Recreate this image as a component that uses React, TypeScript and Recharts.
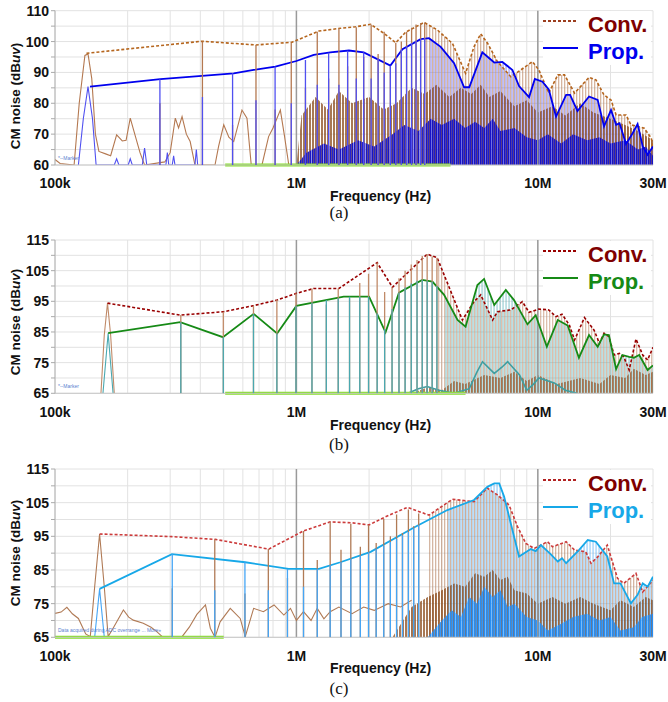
import React from "react";
import {
  ComposedChart,
  Line,
  Area,
  Scatter,
  XAxis,
  YAxis,
  CartesianGrid,
  ReferenceLine,
  Legend,
} from "recharts";

type Pt = [number, number];

// ---- axes ----
const freqTicks = [
  1e5, 2e5, 3e5, 4e5, 5e5, 6e5, 7e5, 8e5, 9e5,
  1e6, 2e6, 3e6, 4e6, 5e6, 6e6, 7e6, 8e6, 9e6,
  1e7, 2e7, 3e7,
];
const freqLabels: Record<string, string> = {
  "100000": "100k",
  "1000000": "1M",
  "10000000": "10M",
  "30000000": "30M",
};
const dbTicksA = [60, 65, 70, 75, 80, 85, 90, 95, 100, 105, 110];
const dbLabelsA = [60, 70, 80, 90, 100, 110];
const dbTicksBC = [65, 70, 75, 80, 85, 90, 95, 100, 105, 110, 115];
const dbLabelsBC = [65, 75, 85, 95, 105, 115];

// ---- (a) ----
const aConv: Pt[] = [
  [1.35e5, 96.2], [4.06e5, 100.1], [6.8e5, 98.9], [9.6e5, 99.8], [1.24e6, 103.4],
  [1.52e6, 104.3], [1.76e6, 104.8], [2.03e6, 105.6], [2.3e6, 102.7], [2.58e6, 99.6],
  [2.83e6, 103], [3.38e6, 106.2], [3.83e6, 103.8], [4.43e6, 99.4], [5.02e6, 89.7],
  [5.44e6, 98.3], [5.8e6, 102.5], [6.2e6, 99.4], [6.8e6, 93.5], [7.73e6, 88.6],
  [8.5e6, 90.8], [9.5e6, 93.5], [1.01e7, 90.8], [1.11e7, 83.3], [1.21e7, 89.2],
  [1.29e7, 89.2], [1.42e7, 83.3], [1.63e7, 88.4], [1.74e7, 87.6], [1.88e7, 82.7],
  [2.01e7, 81.1], [2.11e7, 76.2], [2.32e7, 76.2], [2.43e7, 73], [2.59e7, 72.5],
  [2.76e7, 71.9], [2.95e7, 68.7], [3e7, 66],
];
const aProp: Pt[] = [
  [1.396e5, 85.4], [2.73e5, 87.8], [4.06e5, 88.9], [5.5e5, 89.7], [6.65e5, 90.8],
  [8.18e5, 91.9], [1e6, 93.7], [1.18e6, 95.7], [1.38e6, 96.5], [1.65e6, 97.1],
  [1.9e6, 96.5], [2.45e6, 92.2], [2.75e6, 97.5], [3.27e6, 100.8], [3.54e6, 101.1],
  [3.96e6, 98.3], [4.5e6, 93], [4.95e6, 85.2], [5.2e6, 85.2], [5.89e6, 96.5],
  [6.6e6, 93.2], [7.13e6, 93.4], [7.85e6, 90.8], [8.36e6, 85.6], [9.2e6, 82],
  [9.72e6, 87.9], [1.045e7, 87], [1.11e7, 84.5], [1.19e7, 75.7], [1.31e7, 82.7],
  [1.36e7, 82.7], [1.46e7, 77.5], [1.63e7, 82.2], [1.77e7, 81.1], [1.88e7, 72.5],
  [2.01e7, 77.8], [2.11e7, 73], [2.18e7, 73.5], [2.32e7, 66.8], [2.47e7, 70.3],
  [2.59e7, 73.3], [2.72e7, 66], [2.85e7, 63.3], [3e7, 66],
];
const aConvSpikes: Pt[] = [
  [2.72e5, 80], [4.08e5, 100], [5.44e5, 73], [6.8e5, 98.9], [8.16e5, 78],
  [9.52e5, 99.6], [1.09e6, 85], [1.22e6, 103.2], [1.36e6, 88], [1.5e6, 104.2],
  [1.63e6, 92], [1.77e6, 104.6], [1.9e6, 95], [2.04e6, 105.5], [2.18e6, 96],
  [2.31e6, 103.2], [2.45e6, 92], [2.58e6, 99.6], [2.72e6, 100], [2.86e6, 103.2],
  [3e6, 104.5], [3.13e6, 105.5], [3.27e6, 106], [3.4e6, 106.2],
];
const aPropSpikes: Pt[] = [
  [2.72e5, 87.8], [4.08e5, 82], [5.44e5, 89.7], [6.8e5, 81], [8.16e5, 91.9],
  [9.52e5, 80], [1.09e6, 94], [1.22e6, 86], [1.36e6, 96.4], [1.5e6, 86],
  [1.63e6, 97], [1.77e6, 88], [1.9e6, 96.5], [2.04e6, 88], [2.18e6, 94.5],
  [2.31e6, 90], [2.45e6, 92.2], [2.58e6, 93], [2.72e6, 97.4], [2.86e6, 98.5],
  [3e6, 99.5], [3.13e6, 100.3], [3.27e6, 100.8], [3.4e6, 101],
];
const aConvTrace: Pt[] = [
  [1e5, 61.8], [1.05e5, 60.5], [1.2e5, 60], [1.26e5, 80], [1.33e5, 95.5], [1.37e5, 96],
  [1.42e5, 88], [1.47e5, 70], [1.52e5, 64.4], [1.62e5, 63.6], [1.7e5, 63], [1.8e5, 69.8],
  [1.9e5, 67.8], [1.97e5, 68], [2.05e5, 75.2], [2.14e5, 70], [2.25e5, 64], [2.35e5, 60],
  [2.85e5, 61], [3e5, 64], [3.15e5, 75.2], [3.25e5, 72], [3.36e5, 75.7], [3.5e5, 70],
  [3.63e5, 67.6], [3.8e5, 60], [4.6e5, 60], [4.76e5, 66], [5e5, 73], [5.25e5, 69],
  [5.5e5, 67.6], [5.95e5, 77.8], [6.24e5, 75.2], [6.5e5, 60], [7.2e5, 60], [7.67e5, 69.2],
  [8e5, 72], [8.58e5, 77.8], [8.9e5, 70], [9.3e5, 60],
];
const aPropTrace: Pt[] = [
  [1.25e5, 60], [1.31e5, 75], [1.37e5, 85.4], [1.43e5, 75], [1.48e5, 60],
  [1.76e5, 60], [1.8e5, 62], [1.84e5, 60], [2.01e5, 60], [2.05e5, 62], [2.09e5, 60],
  [2.3e5, 60], [2.35e5, 65.5], [2.4e5, 60], [2.88e5, 60], [2.92e5, 64], [2.96e5, 60],
  [3.06e5, 60], [3.1e5, 63], [3.14e5, 60], [3.8e5, 60], [3.85e5, 65], [3.9e5, 60],
];
const aConvMass: Pt[] = [
  [1e6, 60], [1.05e6, 76], [1.2e6, 82], [1.35e6, 78], [1.5e6, 84], [1.7e6, 80],
  [2e6, 82], [2.3e6, 78], [2.6e6, 80], [3e6, 85], [3.4e6, 83], [3.8e6, 86],
  [4.3e6, 82], [4.8e6, 85], [5.3e6, 83], [5.8e6, 86], [6.3e6, 82], [7e6, 84],
  [8e6, 79], [9e6, 81], [1e7, 77], [1.15e7, 79], [1.3e7, 76], [1.5e7, 80],
  [1.7e7, 77], [2e7, 75], [2.3e7, 73], [2.6e7, 71], [3e7, 68],
];
const aPropMass: Pt[] = [
  [1e6, 60], [1.1e6, 64], [1.3e6, 67], [1.5e6, 65], [1.8e6, 68], [2.1e6, 66],
  [2.5e6, 70], [2.8e6, 73], [3.2e6, 71], [3.6e6, 75], [4e6, 73], [4.5e6, 75],
  [5e6, 72], [5.5e6, 74], [6e6, 72], [6.5e6, 75], [7e6, 71], [8e6, 72], [9e6, 69],
  [1e7, 68], [1.1e7, 70], [1.25e7, 67], [1.4e7, 70], [1.6e7, 68], [1.8e7, 69],
  [2e7, 67], [2.3e7, 68], [2.6e7, 65], [2.8e7, 66], [3e7, 63],
];

// ---- (b) ----
const bConv: Pt[] = [
  [1.65e5, 94.4], [3.3e5, 90.5], [4.99e5, 91.6], [6.65e5, 93.6], [8.32e5, 95.4],
  [1e6, 97.6], [1.18e6, 99.2], [1.5e6, 99.2], [2.16e6, 107.6], [2.5e6, 99.6],
  [3.48e6, 110.4], [3.83e6, 109.2], [4.87e6, 88.9], [5.44e6, 94.9], [5.8e6, 97.1],
  [6.5e6, 88.9], [6.8e6, 91.6], [7.73e6, 92.2], [8.63e6, 94.9], [9.2e6, 91.4],
  [1.01e7, 92.5], [1.11e7, 92.2], [1.19e7, 90], [1.26e7, 90.8], [1.35e7, 87.3],
  [1.42e7, 82.4], [1.56e7, 89.7], [1.71e7, 85.6], [1.8e7, 81.3], [1.88e7, 84.6],
  [1.97e7, 83.5], [2.07e7, 77.5], [2.18e7, 78], [2.27e7, 76.9], [2.39e7, 72.6],
  [2.55e7, 82.7], [2.72e7, 77.5], [2.85e7, 75.9], [3e7, 80],
];
const bProp: Pt[] = [
  [1.66e5, 84.6], [3.3e5, 88.2], [4.96e5, 83.3], [6.65e5, 90.9], [8.32e5, 84.5],
  [1e6, 93.5], [1.57e6, 96.5], [2e6, 96.5], [2.34e6, 84.9], [2.66e6, 97.8],
  [3.32e6, 102], [3.66e6, 101.4], [4.09e6, 97.1], [4.65e6, 88.9], [5.02e6, 86.7],
  [5.62e6, 100.3], [5.99e6, 102.3], [6.6e6, 93.8], [7.37e6, 98.7], [7.97e6, 95.4],
  [9.06e6, 87.5], [9.8e6, 90.5], [1.09e7, 80.2], [1.21e7, 88.9], [1.33e7, 87.1],
  [1.48e7, 76.6], [1.63e7, 84], [1.77e7, 80.2], [1.88e7, 84.2], [1.97e7, 84],
  [2.11e7, 72.9], [2.24e7, 77.5], [2.39e7, 76.9], [2.5e7, 76.6], [2.63e7, 77.5],
  [2.85e7, 72.6], [3e7, 74.1],
];
const bConvSpikes: Pt[] = [
  [3.32e5, 90.5], [4.98e5, 91.6], [6.64e5, 93.6], [8.3e5, 95.4], [9.96e5, 97.6],
  [1.16e6, 99.2], [1.33e6, 94], [1.49e6, 99.2], [1.66e6, 96], [1.83e6, 101],
  [1.99e6, 104], [2.16e6, 107.6], [2.32e6, 98], [2.49e6, 99.6], [2.66e6, 102.5],
  [2.82e6, 105], [2.99e6, 107], [3.16e6, 108.5], [3.32e6, 109.8], [3.48e6, 110.4],
  [3.65e6, 109.7], [3.82e6, 109.2],
];
const bPropSpikes: Pt[] = [
  [3.32e5, 88.2], [4.98e5, 83.3], [6.64e5, 90.9], [8.3e5, 84.5], [9.96e5, 93.5],
  [1.16e6, 94.5], [1.33e6, 95.4], [1.49e6, 96], [1.66e6, 96.5], [1.83e6, 96.5],
  [1.99e6, 96.5], [2.16e6, 91], [2.32e6, 86], [2.49e6, 92.5], [2.66e6, 97.8],
  [2.82e6, 99.5], [2.99e6, 100.8], [3.16e6, 101.7], [3.32e6, 102], [3.48e6, 101.7],
  [3.65e6, 101.4], [3.82e6, 100],
];
const bConvTrace: Pt[] = [
  [1.55e5, 65], [1.6e5, 84], [1.65e5, 94.4], [1.7e5, 84], [1.76e5, 65],
];
const bPropTrace: Pt[] = [
  [1.58e5, 65], [1.66e5, 84.6], [1.74e5, 65],
];
const bConvMass: Pt[] = [
  [3e6, 65], [3.5e6, 67], [4e6, 66], [4.5e6, 69], [5e6, 68], [6e6, 71], [7e6, 70],
  [8e6, 72], [9e6, 69], [1e7, 71], [1.2e7, 68], [1.5e7, 70], [1.8e7, 68], [2e7, 71],
  [2.3e7, 70], [2.5e7, 73], [2.8e7, 71], [3e7, 72],
];
const bTealNoise: Pt[] = [
  [2.9e6, 65], [3.2e6, 66.5], [3.48e6, 67.2], [3.9e6, 66], [4.5e6, 65], [5.2e6, 66.5],
  [5.6e6, 72], [5.9e6, 75.3], [6.6e6, 71.5], [7.1e6, 73.5], [7.5e6, 75.3], [8.4e6, 71],
  [9e6, 66], [9.6e6, 68], [1.01e7, 70], [1.17e7, 68.4], [1.3e7, 66], [1.45e7, 65],
];

// ---- (c) ----
const cConv: Pt[] = [
  [1.53e5, 95.7], [3.05e5, 94.9], [4.61e5, 94.1], [7.68e5, 91.2], [1.07e6, 96.6],
  [1.38e6, 99.3], [1.7e6, 99], [2e6, 98.4], [2.34e6, 100.8], [2.88e6, 103.6],
  [3.54e6, 101.3], [4.43e6, 106], [5.44e6, 105.3], [6.18e6, 109.3], [6.8e6, 107.3],
  [7.6e6, 104.3], [8.24e6, 97.9], [8.92e6, 92.9], [9.66e6, 91.4], [1.097e7, 93.4],
  [1.15e7, 91.9], [1.31e7, 93.4], [1.42e7, 90.9], [1.58e7, 90.4], [1.66e7, 87],
  [1.77e7, 88.9], [1.94e7, 92.4], [2.14e7, 82.5], [2.27e7, 81], [2.55e7, 84],
  [2.72e7, 78.5], [3e7, 82],
];
const cProp: Pt[] = [
  [1.53e5, 79.4], [3.05e5, 89.7], [6.14e5, 87.3], [9.29e5, 85.3], [1.24e6, 85.3],
  [1.52e6, 87.3], [2.03e6, 90.4], [3.07e6, 97.6], [4.22e6, 102.8], [5.44e6, 105.8],
  [6.18e6, 109.7], [6.6e6, 110.7], [6.92e6, 110.7], [7.25e6, 106.8], [8.36e6, 89],
  [9.35e6, 91.2], [9.8e6, 90.6], [1.03e7, 92.4], [1.13e7, 89.7], [1.21e7, 87.5],
  [1.26e7, 88.5], [1.31e7, 87], [1.48e7, 90.9], [1.61e7, 93.9], [1.74e7, 93.4],
  [1.94e7, 89], [2.07e7, 81], [2.2e7, 81], [2.43e7, 75.1], [2.59e7, 77.6],
  [2.72e7, 81], [2.85e7, 80], [3e7, 83],
];
const cConvSpikes: Pt[] = [
  [3.06e5, 79.6], [4.59e5, 94.1], [6.12e5, 78], [7.65e5, 91.2], [9.18e5, 82.6],
  [1.07e6, 96.6], [1.22e6, 88], [1.38e6, 99.3], [1.53e6, 91], [1.68e6, 98.7],
  [1.84e6, 91.9], [1.99e6, 98.4], [2.14e6, 93], [2.3e6, 100.2], [2.45e6, 95],
  [2.6e6, 101.5], [2.75e6, 96], [2.91e6, 103], [3.06e6, 98], [3.21e6, 101.8],
];
const cPropSpikes: Pt[] = [
  [3.06e5, 89.7], [4.59e5, 79], [6.12e5, 87.3], [7.65e5, 79], [9.18e5, 85.3],
  [1.07e6, 80], [1.22e6, 85.3], [1.38e6, 86.5], [1.53e6, 87.4], [1.68e6, 88.3],
  [1.84e6, 89.3], [1.99e6, 90.3], [2.14e6, 91.3], [2.3e6, 92.3], [2.45e6, 93.3],
  [2.6e6, 94.3], [2.75e6, 95.3], [2.91e6, 96.3], [3.06e6, 97.4], [3.21e6, 98.3],
];
const cConvTrace: Pt[] = [
  [1e5, 72.1], [1.06e5, 72.5], [1.12e5, 73.9], [1.18e5, 72], [1.25e5, 70.6], [1.34e5, 66],
  [1.4e5, 65.2], [1.46e5, 80], [1.53e5, 95.7], [1.6e5, 80], [1.66e5, 65.2], [1.75e5, 68],
  [1.92e5, 73.1], [2.02e5, 71], [2.11e5, 70.1], [2.32e5, 69.2], [2.5e5, 68], [2.64e5, 66.7],
  [2.81e5, 64.9], [3.36e5, 65.2], [3.6e5, 68], [3.87e5, 71.8], [4.2e5, 74.6], [4.4e5, 67.7],
  [4.6e5, 65], [4.83e5, 69.6], [5.32e5, 73.6], [5.85e5, 70.6], [6.14e5, 65.2], [6.65e5, 73.6],
  [7.3e5, 72.6], [8.08e5, 74.6], [8.87e5, 71.6], [9.45e5, 73.6], [1e6, 70], [1.07e6, 72.6],
  [1.15e6, 70], [1.22e6, 73.6], [1.3e6, 70.5], [1.38e6, 72.6], [1.5e6, 74], [1.7e6, 72],
  [1.9e6, 74], [2.1e6, 73], [2.4e6, 75], [2.7e6, 74], [3e6, 76],
];
const cPropTrace: Pt[] = [
  [1.46e5, 65], [1.53e5, 79.4], [1.6e5, 65],
];
const cConvMass: Pt[] = [
  [2.5e6, 65], [3e6, 74], [3.5e6, 77], [4e6, 79], [4.5e6, 81], [5e6, 80], [5.5e6, 84],
  [6e6, 83], [6.5e6, 85], [7e6, 82], [7.5e6, 83], [8e6, 79], [9e6, 78], [1e7, 75],
  [1.15e7, 77], [1.3e7, 75], [1.5e7, 77], [1.7e7, 75], [2e7, 73], [2.2e7, 76],
  [2.5e7, 74], [2.8e7, 77], [3e7, 76],
];
const cPropMass: Pt[] = [
  [3.5e6, 65], [4e6, 70], [4.4e6, 73], [4.8e6, 71], [5.2e6, 77], [5.6e6, 75], [6e6, 80],
  [6.5e6, 77], [7e6, 79], [7.5e6, 74], [8e6, 75], [9e6, 71], [1e7, 70], [1.1e7, 67],
  [1.25e7, 69], [1.4e7, 71], [1.6e7, 72], [1.8e7, 70], [2e7, 71], [2.2e7, 67],
  [2.5e7, 68], [2.7e7, 71], [3e7, 72],
];

const rows = (pts: Pt[]) => pts.map(([f, db]) => ({ f, db }));

const SANS = "'Liberation Sans', Arial, sans-serif";
const SERIF = "'Liberation Serif', 'Times New Roman', serif";

type PanelProps = {
  id: string;
  caption: string;
  top: number;
  height: number;
  plotTop: number;
  plotBottom: number;
  yDomain: [number, number];
  yTicks: number[];
  yLabels: number[];
  yLabelShift: number;
  captionY: number;
  freqY: number;
  legendTop: number;
  conv: Pt[];
  prop: Pt[];
  convSpikes: Pt[];
  propSpikes: Pt[];
  convTrace: Pt[];
  propTrace: Pt[];
  convMass: Pt[];
  propMass: Pt[];
  noise?: Pt[];
  stripeFrom: number;
  limit: [number, number];
  marker: string;
  colors: {
    conv: string;
    prop: string;
    convSpike: string;
    propSpike: string;
    convMass: string;
    propMass: string;
    convLegend: string;
  };
};

function Panel(p: PanelProps) {
  const c = p.colors;
  const base = p.plotBottom - p.top;
  const spike = (color: string) => (s: any) => (
    <line x1={s.cx} x2={s.cx} y1={s.cy} y2={base} stroke={color} strokeWidth={1.3} />
  );
  const yMin = p.yDomain[0];
  return (
    <>
      <div style={{ position: "absolute", left: 0, top: p.top, width: 668, height: p.height }}>
        <ComposedChart
          width={668}
          height={p.height}
          margin={{ top: p.plotTop - p.top, right: 15, bottom: 0, left: 0 }}
        >
          <defs>
            <pattern id={`${p.id}-cs`} width="3" height="4" patternUnits="userSpaceOnUse">
              <rect x="0" width="1.3" height="4" fill={c.convSpike} opacity="0.55" />
            </pattern>
            <pattern id={`${p.id}-ps`} width="3" height="4" patternUnits="userSpaceOnUse">
              <rect x="1.5" width="1.1" height="4" fill={c.propSpike} opacity="0.6" />
            </pattern>
            <pattern id={`${p.id}-cm`} width="3" height="4" patternUnits="userSpaceOnUse">
              <rect x="0" width="2" height="4" fill={c.convMass} opacity="0.75" />
            </pattern>
            <pattern id={`${p.id}-pm`} width="2" height="4" patternUnits="userSpaceOnUse">
              <rect x="0" width="1.5" height="4" fill={c.propMass} opacity="0.9" />
            </pattern>
          </defs>
          <CartesianGrid stroke="#e2e2e2" />
          <XAxis
            dataKey="f"
            type="number"
            scale="log"
            domain={[1e5, 3e7]}
            ticks={freqTicks}
            interval={0}
            allowDataOverflow
            height={p.top + p.height - p.plotBottom}
            tickSize={0}
            tickMargin={p.id === "a" ? 13 : 14}
            tickFormatter={(v: number) => freqLabels[String(v)] ?? ""}
            tick={{ fontSize: 14, fontWeight: 700, fill: "#111", fontFamily: SANS }}
            axisLine={{ stroke: "#c8c8c8" }}
          />
          <YAxis
            type="number"
            domain={p.yDomain}
            ticks={p.yTicks}
            interval={0}
            allowDataOverflow
            width={55}
            tickSize={4}
            tickMargin={2}
            tickLine={{ stroke: "#aaa" }}
            axisLine={{ stroke: "#b0b0b0" }}
            tickFormatter={(v: number) => (p.yLabels.includes(v) ? String(v) : "")}
            tick={{ fontSize: 14, fontWeight: 700, fill: "#111", fontFamily: SANS }}
          />
          <ReferenceLine x={1e6} stroke="#9a9a9a" strokeWidth={1.5} />
          <ReferenceLine x={1e7} stroke="#9a9a9a" strokeWidth={1.5} />

          <Area
            data={rows(p.conv.filter(([f]) => f >= p.stripeFrom))}
            dataKey="db"
            type="linear"
            stroke="none"
            fill={`url(#${p.id}-cs)`}
            fillOpacity={1}
            isAnimationActive={false}
          />
          <Area
            data={rows(p.convMass)}
            dataKey="db"
            type="linear"
            stroke="none"
            fill={`url(#${p.id}-cm)`}
            fillOpacity={1}
            isAnimationActive={false}
          />
          <Scatter data={rows(p.convSpikes)} dataKey="db" shape={spike(c.convSpike)} isAnimationActive={false} />
          <Line
            data={rows(p.convTrace)}
            dataKey="db"
            type="linear"
            stroke={c.convSpike}
            strokeWidth={1.1}
            dot={false}
            activeDot={false}
            isAnimationActive={false}
          />
          <Area
            data={rows(p.prop.filter(([f]) => f >= p.stripeFrom))}
            dataKey="db"
            type="linear"
            stroke="none"
            fill={`url(#${p.id}-ps)`}
            fillOpacity={1}
            isAnimationActive={false}
          />
          <Area
            data={rows(p.propMass)}
            dataKey="db"
            type="linear"
            stroke="none"
            fill={`url(#${p.id}-pm)`}
            fillOpacity={1}
            isAnimationActive={false}
          />
          <Scatter data={rows(p.propSpikes)} dataKey="db" shape={spike(c.propSpike)} isAnimationActive={false} />
          <Line
            data={rows(p.propTrace)}
            dataKey="db"
            type="linear"
            stroke={c.propSpike}
            strokeWidth={1.1}
            dot={false}
            activeDot={false}
            isAnimationActive={false}
          />
          {p.noise && (
            <Line
              data={rows(p.noise)}
              dataKey="db"
              type="linear"
              stroke="#3f9ea0"
              strokeWidth={1.6}
              dot={false}
              activeDot={false}
              isAnimationActive={false}
            />
          )}
          <ReferenceLine
            segment={[
              { x: p.limit[0], y: yMin },
              { x: p.limit[1], y: yMin },
            ]}
            stroke="#86de2a"
            strokeWidth={3}
          />
          <Line
            data={rows(p.conv)}
            dataKey="db"
            type="linear"
            stroke={c.conv}
            strokeWidth={1.6}
            strokeDasharray="3 2"
            dot={false}
            activeDot={false}
            isAnimationActive={false}
          />
          <Line
            data={rows(p.prop)}
            dataKey="db"
            type="linear"
            stroke={c.prop}
            strokeWidth={1.8}
            dot={false}
            activeDot={false}
            isAnimationActive={false}
          />
          <Legend
            layout="vertical"
            align="center"
            verticalAlign="middle"
            wrapperStyle={{ top: p.legendTop - p.top, left: 543, width: 108 }}
            content={() => (
              <div style={{ background: "#fff", fontFamily: SANS, fontWeight: 700, fontSize: 22 }}>
                <div style={{ display: "flex", height: 27 }}>
                  <svg width={35} height={27} style={{ flex: "none" }}>
                    <line x1={0} x2={35} y1={10} y2={10} stroke={c.convLegend} strokeWidth={2} strokeDasharray="3 2" />
                  </svg>
                  <span style={{ marginLeft: 10, color: "#7f0000", lineHeight: "27px" }}>Conv.</span>
                </div>
                <div style={{ display: "flex", height: 27 }}>
                  <svg width={35} height={27} style={{ flex: "none" }}>
                    <line x1={0} x2={35} y1={10} y2={10} stroke={c.prop} strokeWidth={2.2} />
                  </svg>
                  <span style={{ marginLeft: 10, color: c.prop, lineHeight: "27px" }}>Prop.</span>
                </div>
              </div>
            )}
          />
        </ComposedChart>
      </div>
      <div
        style={{
          position: "absolute",
          left: 15,
          top: (p.plotTop + p.plotBottom) / 2 + p.yLabelShift,
          transform: "translate(-50%, -50%) rotate(-90deg)",
          whiteSpace: "nowrap",
          fontFamily: SANS,
          fontWeight: 700,
          fontSize: 13.5,
          color: "#111",
        }}
      >
        CM noise (dB<i>uv</i>)
      </div>
      <div
        style={{
          position: "absolute",
          left: 330,
          top: p.freqY - 8,
          lineHeight: "16px",
          whiteSpace: "nowrap",
          fontFamily: SANS,
          fontWeight: 700,
          fontSize: 14,
          color: "#111",
        }}
      >
        Frequency (Hz)
      </div>
      <div
        style={{
          position: "absolute",
          left: 339,
          top: p.captionY - 10,
          lineHeight: "20px",
          transform: "translateX(-50%)",
          fontFamily: SERIF,
          fontSize: 17,
          color: "#111",
        }}
      >
        {p.caption}
      </div>
      <div
        style={{
          position: "absolute",
          left: 58,
          top: p.plotBottom - 10,
          fontFamily: SANS,
          fontSize: 5,
          color: "#5a7fd0",
          whiteSpace: "nowrap",
        }}
      >
        {p.marker}
      </div>
    </>
  );
}

export default function App() {
  return (
    <div style={{ position: "absolute", left: 0, top: 0, width: 668, height: 702, background: "#fff" }}>
      <Panel
        id="a"
        caption="(a)"
        top={0}
        height={206}
        plotTop={10.7}
        plotBottom={165}
        yDomain={[60, 110]}
        yTicks={dbTicksA}
        yLabels={dbLabelsA}
        yLabelShift={8}
        captionY={213}
        freqY={196}
        legendTop={10.8}
        conv={aConv}
        prop={aProp}
        convSpikes={aConvSpikes}
        propSpikes={aPropSpikes}
        convTrace={aConvTrace}
        propTrace={aPropTrace}
        convMass={aConvMass}
        propMass={aPropMass}
        stripeFrom={3.3e6}
        limit={[5.07e5, 4.35e6]}
        marker="*--Marker"
        colors={{
          conv: "#b5651d",
          prop: "#0000ee",
          convSpike: "#b47850",
          propSpike: "#5050f0",
          convMass: "#8a4a1a",
          propMass: "#0a0ad0",
          convLegend: "#9c3d1e",
        }}
      />
      <Panel
        id="b"
        caption="(b)"
        top={225}
        height={210}
        plotTop={240}
        plotBottom={393.3}
        yDomain={[65, 115]}
        yTicks={dbTicksBC}
        yLabels={dbLabelsBC}
        yLabelShift={5}
        captionY={445}
        freqY={425}
        legendTop={240.5}
        conv={bConv}
        prop={bProp}
        convSpikes={bConvSpikes}
        propSpikes={bPropSpikes}
        convTrace={bConvTrace}
        propTrace={bPropTrace}
        convMass={bConvMass}
        propMass={[]}
        noise={bTealNoise}
        stripeFrom={3.7e6}
        limit={[5.07e5, 5.02e6]}
        marker="*--Marker"
        colors={{
          conv: "#990000",
          prop: "#168a16",
          convSpike: "#c08a68",
          propSpike: "#4aa8b0",
          convMass: "#a0582a",
          propMass: "#3f9ea0",
          convLegend: "#990000",
        }}
      />
      <Panel
        id="c"
        caption="(c)"
        top={455}
        height={222}
        plotTop={469}
        plotBottom={637.3}
        yDomain={[65, 115]}
        yTicks={dbTicksBC}
        yLabels={dbLabelsBC}
        yLabelShift={0}
        captionY={689}
        freqY={668}
        legendTop={470}
        conv={cConv}
        prop={cProp}
        convSpikes={cConvSpikes}
        propSpikes={cPropSpikes}
        convTrace={cConvTrace}
        propTrace={cPropTrace}
        convMass={cConvMass}
        propMass={cPropMass}
        stripeFrom={3.1e6}
        limit={[1e5, 5e5]}
        marker="Data acquired during ADC overrange ... More»"
        colors={{
          conv: "#cc3b3b",
          prop: "#17a8e8",
          convSpike: "#b07a55",
          propSpike: "#45a5f5",
          convMass: "#8a4a1a",
          propMass: "#1e8fff",
          convLegend: "#b22222",
        }}
      />
    </div>
  );
}
